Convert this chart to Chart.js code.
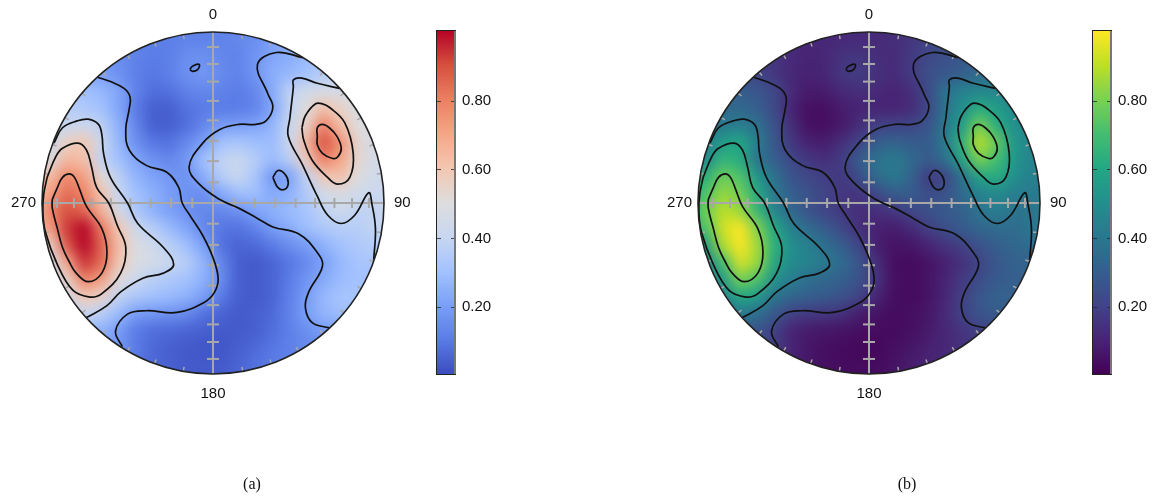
<!DOCTYPE html>
<html>
<head>
<meta charset="utf-8">
<script src="https://cdn.jsdelivr.net/npm/chart.js@4"></script>
<style>
body { margin: 0; background: #fff; width: 1156px; height: 502px; overflow: hidden; position: relative; }
canvas { position: absolute; top: 0; }
.sub { position: absolute; top: 475px; width: 40px; text-align: center; font: 16px "Liberation Serif", serif; color: #111; }
</style>
</head>
<body>
<canvas id="poleA" width="420" height="502" style="left:0"></canvas>
<canvas id="barA" width="70" height="502" style="left:430px"></canvas>
<canvas id="poleB" width="420" height="502" style="left:656px"></canvas>
<canvas id="barB" width="70" height="502" style="left:1086px"></canvas>
<div class="sub" style="left:232px">(a)</div>
<div class="sub" style="left:887px">(b)</div>
<script>
// intensity, hundredths, rows run top to bottom
const fieldX = [-1.05,-0.95,-0.85,-0.75,-0.65,-0.55,-0.45,-0.35,-0.25,-0.15,-0.05,0.05,0.15,0.25,0.35,0.45,0.55,0.65,0.75,0.85,0.95,1.05];
const fieldY = [1.05,0.95,0.85,0.75,0.65,0.55,0.45,0.35,0.25,0.15,0.05,-0.05,-0.15,-0.25,-0.35,-0.45,-0.55,-0.65,-0.75,-0.85,-0.95,-1.05];
const fieldValues = [
  [20,20,20,20,18,14,12,11,11,12,12,12,13,15,20,24,26,28,30,30,30,30],
  [20,20,20,20,18,14,12,11,11,12,12,12,13,15,20,24,26,28,30,30,30,30],
  [20,20,20,20,18,15,12,10,11,15,16,13,12,17,22,24,27,30,30,30,30,30],
  [22,22,22,22,20,16,11,9,11,16,18,14,12,17,24,27,30,35,35,35,35,35],
  [32,32,32,30,27,22,12,7,8,12,13,12,10,13,23,38,44,46,46,46,46,46],
  [35,35,35,33,30,22,10,4,4,8,10,10,10,12,21,38,50,62,55,47,45,45],
  [38,38,40,42,37,25,13,4,4,7,13,19,20,21,26,40,55,80,62,50,45,45],
  [42,42,56,60,42,27,16,9,8,14,20,30,32,29,28,41,65,90,76,53,45,45],
  [45,47,65,62,38,30,22,16,13,18,30,38,41,35,28,36,58,80,70,53,45,45],
  [62,63,78,72,52,37,26,21,18,16,24,35,41,32,17,20,38,58,62,50,43,43],
  [60,72,84,79,61,40,30,25,20,16,15,22,29,29,23,25,34,44,47,43,41,41],
  [65,78,90,85,66,45,33,25,20,16,13,13,16,21,25,28,31,38,43,38,38,42],
  [65,72,93,100,81,60,43,35,28,21,13,9,8,12,19,24,29,33,35,35,39,42],
  [50,55,88,104,86,63,49,43,36,29,20,8,5,6,10,15,19,25,30,33,35,38],
  [40,45,70,94,85,60,48,45,41,35,26,13,4,3,5,9,14,20,27,31,32,32],
  [35,38,55,80,72,51,42,36,33,30,25,15,4,3,5,10,17,23,28,30,30,30],
  [32,35,45,60,55,38,33,30,28,25,20,10,4,3,5,11,19,27,31,31,31,31],
  [30,30,32,41,36,28,19,17,16,14,8,5,3,4,6,12,20,26,29,29,29,29],
  [28,28,28,28,25,19,10,7,6,5,4,3,3,4,7,11,15,19,20,20,20,20],
  [25,25,25,25,22,18,10,6,4,3,2,2,4,6,9,11,14,16,18,18,18,18],
  [20,20,20,20,18,15,9,6,4,3,3,3,5,8,10,12,14,16,18,18,18,18],
  [18,18,18,18,16,13,9,6,4,3,3,3,5,8,10,12,14,16,18,18,18,18]
];

// contour lines in disc coordinates
const contourLines = [
  [[-.675,.735],[-.60,.71],[-.52,.67],[-.485,.62],[-.49,.55],[-.51,.43],[-.49,.31],[-.39,.22],[-.27,.18],[-.20,.09],[-.18,0],[-.13,-.08],[-.06,-.19],[0,-.32],[.03,-.44],[.01,-.52],[-.05,-.58],[-.21,-.64],[-.39,-.63],[-.50,-.65],[-.57,-.75],[-.53,-.84]],
  [[.525,.85],[.37,.88],[.26,.81],[.32,.64],[.35,.56],[.31,.48],[.25,.46],[.15,.46],[.04,.43],[-.06,.35],[-.14,.21],[-.08,.11],[.04,.02],[.15,-.03],[.26,-.09],[.35,-.14],[.50,-.18],[.61,-.29],[.64,-.37],[.56,-.52],[.54,-.61],[.58,-.70],[.68,-.73]],
  [[-.135,.78],[-.12,.80],[-.08,.81],[-.09,.78],[-.12,.77],[-.135,.78]],
  [[.35,.15],[.38,.19],[.42,.17],[.44,.12],[.42,.08],[.38,.09],[.35,.15]],
  [[-.93,.35],[-.88,.44],[-.795,.48],[-.73,.49],[-.67,.46],[-.65,.40],[-.64,.29],[-.60,.15],[-.50,0],[-.44,-.12],[-.29,-.26],[-.23,-.36],[-.29,-.41],[-.41,-.44],[-.54,-.52],[-.62,-.60],[-.74,-.67]],
  [[.74,.67],[.61,.70],[.52,.73],[.47,.72],[.47,.68],[.45,.50],[.44,.39],[.52,.23],[.61,.04],[.67,-.07],[.75,-.12],[.83,-.07],[.91,.06],[.93,-.01],[.95,-.15],[.94,-.33]],
  [[-.97,.15],[-.92,.27],[-.88,.32],[-.79,.35],[-.74,.31],[-.71,.21],[-.68,.09],[-.61,0],[-.56,-.13],[-.51,-.26],[-.54,-.41],[-.65,-.53],[-.72,-.55],[-.82,-.51],[-.91,-.36],[-.98,-.17],[-.995,-.05],[-.99,.05],[-.97,.15]],
  [[-.94,.02],[-.91,.09],[-.88,.15],[-.84,.17],[-.81,.15],[-.78,.08],[-.74,-.02],[-.65,-.15],[-.62,-.29],[-.65,-.41],[-.73,-.46],[-.80,-.41],[-.84,-.345],[-.88,-.26],[-.91,-.15],[-.94,-.03],[-.94,.02]],
  [[.52,.44],[.54,.51],[.60,.58],[.64,.58],[.68,.56],[.77,.47],[.82,.29],[.80,.15],[.73,.11],[.67,.15],[.58,.25],[.53,.37],[.52,.44]],
  [[.61,.39],[.61,.44],[.64,.46],[.68,.44],[.725,.39],[.75,.32],[.73,.27],[.70,.26],[.64,.29],[.61,.34],[.61,.39]]
];

const axisTickRadii = [.121,.245,.364,.483,.597,.71,.813,.912];
const rimTickAngles = [10,20,30,40,50,60,70,80,100,110,120,130,140,150,160,170,190,200,210,220,230,240,250,260,280,290,300,310,320,330,340,350];
const directionLabels = ['0','90','180','270'];
const colorbarTicks = [0.2,0.4,0.6,0.8];

const coolwarmStops = [[0,'#3b4cc0'],[.1,'#5a7ce6'],[.2,'#7a9ff8'],[.3,'#a3c2fe'],[.4,'#c8d7f0'],[.5,'#dddddd'],[.6,'#f3c7b1'],[.7,'#f5a688'],[.8,'#ec7f63'],[.9,'#d65040'],[1,'#b40426']];
const viridisStops = [[0,'#440154'],[.1,'#482475'],[.2,'#414487'],[.3,'#355f8d'],[.4,'#2a788e'],[.5,'#21908d'],[.6,'#22a884'],[.7,'#42be71'],[.8,'#7ad151'],[.9,'#bddf26'],[1,'#fde725']];

const gray = '#a8a8a8';
const font = { family: '"Liberation Sans", Arial, sans-serif', size: 15 };

function colorAt(stops, v) {
  v = Math.min(1, Math.max(0, v));
  for (let i = 1; i < stops.length; i++) {
    if (v <= stops[i][0]) {
      const t = (v - stops[i-1][0]) / (stops[i][0] - stops[i-1][0]);
      const a = parseInt(stops[i-1][1].slice(1), 16), b = parseInt(stops[i][1].slice(1), 16);
      const mix = s => Math.round(((a >> s) & 255) * (1 - t) + ((b >> s) & 255) * t);
      return `rgb(${mix(16)},${mix(8)},${mix(0)})`;
    }
  }
  return stops[stops.length-1][1];
}

function discPath(chart) {
  const x = chart.scales.x, y = chart.scales.y;
  const c = chart.ctx;
  c.beginPath();
  c.arc(x.getPixelForValue(0), y.getPixelForValue(0), x.getPixelForValue(1) - x.getPixelForValue(0), 0, Math.PI * 2);
}

const discPlugin = {
  id: 'disc',
  // smooth the heat cells and trim them to the disc
  afterDatasetDraw(chart, args) {
    if (args.index !== 0) return;
    const c = chart.ctx;
    c.save();
    c.filter = 'blur(7px)';
    c.drawImage(chart.canvas, 0, 0);
    c.filter = 'none';
    c.globalCompositeOperation = 'destination-in';
    discPath(chart);
    c.fill();
    c.restore();
  },
  afterDatasetsDraw(chart) {
    const c = chart.ctx;
    c.save();
    c.strokeStyle = '#222';
    c.lineWidth = 1.6;
    discPath(chart);
    c.stroke();
    c.restore();
  }
};

const barFrame = {
  id: 'barFrame',
  afterDraw(chart) {
    const a = chart.chartArea, c = chart.ctx;
    c.save();
    c.lineWidth = 1;
    c.strokeStyle = '#222';
    c.strokeRect(a.left - 0.5, a.top - 0.5, a.right - a.left + 1, a.bottom - a.top + 1);
    c.strokeStyle = '#777';
    c.lineWidth = 2;
    c.beginPath();
    c.moveTo(a.right, a.top);
    c.lineTo(a.right, a.bottom);
    c.stroke();
    c.restore();
  }
};

function labelAxis(axis, position, label, size) {
  return {
    type: 'linear', axis: axis, position: position, min: -1, max: 1,
    grid: { display: false, drawTicks: false },
    border: { display: false, z: 1 },
    afterBuildTicks: s => { s.ticks = [{ value: 0 }]; },
    afterFit: s => { if (axis === 'x') s.height = size; else s.width = size; },
    ticks: {
      z: 1, font: font, color: '#111', maxRotation: 0,
      padding: position === 'left' ? 6 : position === 'right' ? 10 : position === 'top' ? 8 : 11,
      callback: () => label
    }
  };
}

function poleChart(id, stops) {
  const cells = [];
  fieldY.forEach((y, r) => fieldX.forEach((x, k) => cells.push({ x: x, y: y, v: fieldValues[r][k] / 100 })));

  const datasets = [{
    data: cells, order: 20, clip: false, showLine: false,
    pointStyle: 'rect', pointRadius: 13, borderWidth: 0, pointBorderWidth: 0,
    pointBackgroundColor: ctx => colorAt(stops, ctx.raw.v)
  }];
  const plain = { showLine: false, pointStyle: 'line', order: 5, borderColor: gray, pointBorderColor: gray };
  datasets.push({ data: [{x:-1,y:0},{x:1,y:0}], showLine: true, pointRadius: 0, borderColor: gray, borderWidth: 2, order: 6 });
  datasets.push({ data: [{x:0,y:1},{x:0,y:-1}], showLine: true, pointRadius: 0, borderColor: gray, borderWidth: 2, order: 6 });
  const signed = axisTickRadii.concat(axisTickRadii.map(r => -r));
  datasets.push(Object.assign({}, plain, { data: signed.map(r => ({ x: r, y: 0 })), pointRadius: 5, pointRotation: 90, pointBorderWidth: 2 }));
  datasets.push(Object.assign({}, plain, { data: signed.map(r => ({ x: 0, y: r })), pointRadius: 6, pointRotation: 0, pointBorderWidth: 2 }));
  datasets.push(Object.assign({}, plain, {
    data: rimTickAngles.map(a => ({ x: .985 * Math.sin(a * Math.PI / 180), y: .985 * Math.cos(a * Math.PI / 180) })),
    pointRadius: 2, pointRotation: rimTickAngles.map(a => a - 90), pointBorderWidth: 1.5
  }));
  contourLines.forEach(line => datasets.push({
    data: line.map(p => ({ x: p[0], y: p[1] })), showLine: true, pointRadius: 0,
    borderColor: '#111', borderWidth: 1.7, tension: 0.4, order: 1, clip: false
  }));

  return new Chart(document.getElementById(id), {
    type: 'scatter',
    data: { datasets: datasets },
    options: {
      responsive: false, animation: false, events: [],
      layout: { padding: 0 },
      plugins: { legend: { display: false }, tooltip: { enabled: false } },
      scales: {
        x: labelAxis('x', 'bottom', directionLabels[2], 128),
        xTop: labelAxis('x', 'top', directionLabels[0], 32),
        y: labelAxis('y', 'left', directionLabels[3], 42),
        yRight: labelAxis('y', 'right', directionLabels[1], 36)
      }
    },
    plugins: [discPlugin]
  });
}

function colorbar(id, stops) {
  return new Chart(document.getElementById(id), {
    type: 'bar',
    data: {
      labels: [''],
      datasets: [{
        data: [[0.005, 1.005]],
        barPercentage: 1, categoryPercentage: 1, borderWidth: 0,
        backgroundColor: ctx => {
          const area = ctx.chart.chartArea;
          if (!area) return stops[0][1];
          const g = ctx.chart.ctx.createLinearGradient(0, area.bottom, 0, area.top);
          stops.forEach(s => g.addColorStop(s[0], s[1]));
          return g;
        }
      }]
    },
    options: {
      responsive: false, animation: false, events: [],
      layout: { padding: { top: 31, bottom: 128, left: 7, right: 0 } },
      plugins: { legend: { display: false }, tooltip: { enabled: false } },
      scales: {
        x: { display: false },
        y: {
          position: 'right', min: 0.005, max: 1.005,
          afterBuildTicks: s => { s.ticks = colorbarTicks.map(v => ({ value: v })); },
          afterFit: s => { s.width = 45; },
          border: { display: false, dash: [4, 10, 4] },
          grid: { z: 1, color: 'rgba(40,40,40,0.8)', drawTicks: false },
          ticks: { font: font, color: '#111', padding: 7, callback: v => v.toFixed(2) }
        }
      }
    },
    plugins: [barFrame]
  });
}

poleChart('poleA', coolwarmStops);
colorbar('barA', coolwarmStops);
poleChart('poleB', viridisStops);
colorbar('barB', viridisStops);
</script>
</body>
</html>
